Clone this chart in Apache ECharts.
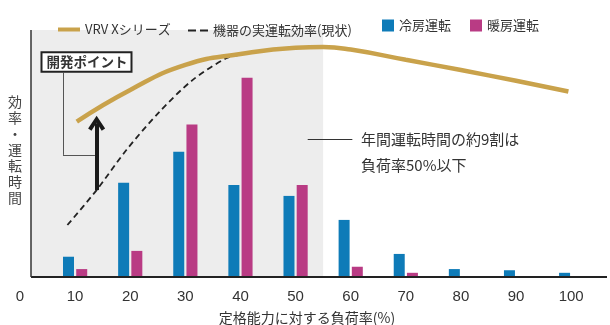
<!DOCTYPE html>
<html>
<head>
<meta charset="utf-8">
<script src="https://cdn.jsdelivr.net/npm/echarts@6/dist/echarts.min.js"></script>
<style>
html,body{margin:0;padding:0;background:#fff;}
#chart{width:610px;height:325px;}
</style>
</head>
<body>
<div id="chart"></div>
<script>
// ---- data ----
const loadRates = [10, 20, 30, 40, 50, 60, 70, 80, 90, 100];
const coolingHours = [8.7, 40.5, 53.8, 39.5, 34.8, 24.5, 9.9, 3.4, 2.9, 1.8];
const heatingRates = [10, 20, 30, 40, 50, 60, 70];
const heatingHours = [3.4, 11.2, 65.4, 85.5, 39.5, 4.4, 1.8];
const vrvX = [10.3, 20, 30, 40, 50, 55, 60, 70, 80, 90, 99.5];
const vrvY = [66.7, 80.3, 91, 95.7, 98.4, 98.7, 97.6, 93.2, 88.8, 84.2, 79.6];
const curX = [8.6, 13.9, 19.3, 25.3, 31.3, 37.4, 39.8];
const curY = [22.3, 37.3, 54.5, 70.9, 84.5, 93.9, 95.3];
const xTicks = [0, 10, 20, 30, 40, 50, 60, 70, 80, 90, 100];

const names = ['VRV Xシリーズ', '機器の実運転効率(現状)', '冷房運転', '暖房運転'];
const FONT = "'Liberation Sans', 'Noto Sans CJK JP', sans-serif";
const JFONT = "'Noto Sans CJK JP', sans-serif";

const zip = (a, b) => a.map((v, i) => [v, b[i]]);

const chart = echarts.init(document.getElementById('chart'), null, {renderer: 'canvas'});

function legendAt(name, icon, left, w, h) {
  return {
    data: [{name: name, icon: icon}], left: left, top: 20 - h / 2, itemWidth: w, itemHeight: h, itemGap: 0,
    textStyle: {fontSize: 13, color: '#333', fontFamily: JFONT},
    selectedMode: false
  };
}

const option = {
  animation: false,
  backgroundColor: '#fff',
  legend: [
    legendAt(names[0], 'path://M0,0h22v4h-22z', 53, 22, 4),
    legendAt(names[1], 'path://M0,0h8v2h-8zM12,0h8v2h-8z', 183, 20, 2),
    legendAt(names[2], 'rect', 377, 12, 12),
    legendAt(names[3], 'rect', 465, 12, 12)
  ],
  grid: {left: 20, right: 0, top: 30, bottom: 48},
  xAxis: {
    type: 'value', min: 0, max: 106.5, interval: 10,
    axisLine: {show: false}, axisTick: {show: false}, splitLine: {show: false},
    axisLabel: {
      margin: 12, fontSize: 15, color: '#333', fontFamily: FONT,
      formatter: v => (xTicks.indexOf(v) >= 0 ? String(v) : '')
    }
  },
  yAxis: {
    type: 'value', min: 0, max: 106,
    axisLine: {show: false}, axisTick: {show: false}, splitLine: {show: false},
    axisLabel: {show: false}
  },
  graphic: [
    {type: 'text', left: 8, top: 94, style: {text: '効\n率\n・\n運\n転\n時\n間', font: '14px ' + JFONT, fill: '#444', lineHeight: 16, align: 'center'}},
    {type: 'text', x: 307, y: 318, style: {text: '定格能力に対する負荷率(%)', font: '14px ' + JFONT, fill: '#333', align: 'center', verticalAlign: 'middle'}},
    {type: 'text', x: 86.5, y: 62, z: 50, style: {text: '開発ポイント', font: 'bold 13.5px ' + JFONT, fill: '#333', align: 'center', verticalAlign: 'middle', backgroundColor: '#fff', borderColor: '#222', borderWidth: 2, padding: [2, 3, 2, 4]}},
    {type: 'text', x: 361, y: 139, style: {text: '年間運転時間の約9割は', font: '15px ' + JFONT, fill: '#333', align: 'left', verticalAlign: 'middle'}},
    {type: 'text', x: 361, y: 165, style: {text: '負荷率50%以下', font: '15px ' + JFONT, fill: '#333', align: 'left', verticalAlign: 'middle'}}
  ],
  series: [
    {
      type: 'line', name: '_bg', data: [], z: 0, silent: true,
      markArea: {silent: true, itemStyle: {color: '#ededed'}, data: [[{coord: [2, 0]}, {coord: [55, 106]}]]}
    },
    {
      type: 'bar', name: names[2], data: zip(loadRates, coolingHours),
      barWidth: 11, barGap: '20%', itemStyle: {color: '#0e7bb8'}, z: 2
    },
    {
      type: 'bar', name: names[3], data: zip(heatingRates, heatingHours),
      barWidth: 11, barGap: '20%', itemStyle: {color: '#b93b84'}, z: 2
    },
    {
      type: 'line', name: names[1], data: zip(curX, curY), smooth: 0.3, symbol: 'none', z: 3,
      lineStyle: {color: '#222', width: 1.8, type: [6, 4]}, itemStyle: {color: '#222'}
    },
    {
      type: 'line', name: names[0], data: zip(vrvX, vrvY), smooth: 0.5, symbol: 'none', z: 4,
      lineStyle: {color: '#c9a24b', width: 4.5, cap: 'butt'}, itemStyle: {color: '#c9a24b'}
    },
    {
      type: 'line', name: '_axes', data: [], z: 5, silent: true,
      markLine: {
        silent: true, symbol: ['none', 'none'], label: {show: false},
        data: [
          [{coord: [2, 0], lineStyle: {color: '#222', width: 2.2, type: 'solid'}}, {coord: [106.5, 0]}],
          [{coord: [2, 0], lineStyle: {color: '#333', width: 1.5, type: 'solid'}}, {coord: [2, 106]}],
          [{coord: [7.8, 87.6], lineStyle: {color: '#555', width: 1, type: 'solid'}}, {coord: [7.8, 52.4]}],
          [{coord: [7.8, 52.4], lineStyle: {color: '#555', width: 1, type: 'solid'}}, {coord: [13.6, 52.4]}],
          [{coord: [52.2, 59.2], lineStyle: {color: '#333', width: 1, type: 'solid'}}, {coord: [60.3, 59.2]}]
        ]
      }
    },
    {
      type: 'line', name: '_arrow', data: [], z: 6, silent: true,
      markLine: {
        silent: true, symbol: ['none', 'path://M0,9 L6,0 L12,9 L9.6,10.6 L6,5 L2.4,10.6 Z'], symbolSize: [17, 15],
        label: {show: false},
        lineStyle: {color: '#1a1a1a', width: 4, type: 'solid'},
        data: [[{coord: [13.9, 37.3]}, {coord: [13.9, 66.0]}]]
      }
    }
  ]
};
chart.setOption(option);
</script>
</body>
</html>
